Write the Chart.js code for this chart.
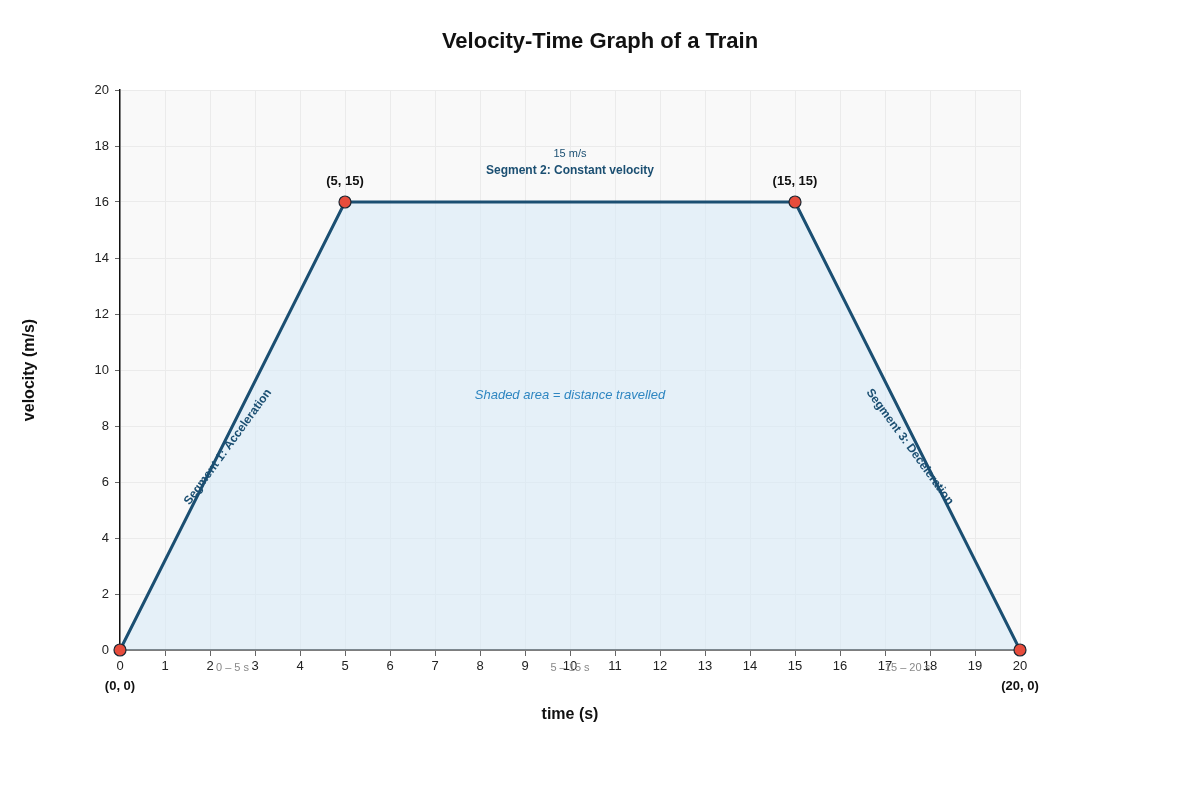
<!DOCTYPE html>
<html>
<head>
<meta charset="utf-8">
<script src="https://cdn.jsdelivr.net/npm/chart.js@4/dist/chart.umd.min.js"></script>
<style>
  html, body { margin: 0; padding: 0; background: #fff; }
  #wrap { width: 1200px; height: 800px; }
</style>
</head>
<body>
<div id="wrap"><canvas id="chart" width="1200" height="800"></canvas></div>
<script>
// data
const times = [0, 5, 15, 20]
const velocities = [0, 16, 16, 0]
const pointLabels = ['(0, 0)', '(5, 15)', '(15, 15)', '(20, 0)']
const segmentRanges = ['0 – 5 s', '5 – 15 s', '15 – 20 s']
const rangeCenters = [2.5, 10, 17.5]

const lineColor = '#1b4f72'
const font = 'Liberation Sans, Arial, sans-serif'

const bgPlugin = {
    id: 'plotBg',
    beforeDraw(chart) {
        const { ctx, chartArea: a } = chart
        ctx.save()
        ctx.fillStyle = '#f9f9f9'
        ctx.fillRect(a.left, a.top, a.right - a.left, a.bottom - a.top)
        ctx.restore()
    }
}

const textPlugin = {
    id: 'texts',
    afterDraw(chart) {
        const { ctx, chartArea: a } = chart
        const x = chart.scales.x, y = chart.scales.y
        ctx.save()
        ctx.textAlign = 'center'
        ctx.textBaseline = 'middle'

        // title + axis titles
        ctx.fillStyle = '#111'
        ctx.font = 'bold 22px ' + font
        ctx.fillText('Velocity-Time Graph of a Train', 600, 42)
        ctx.font = 'bold 16px ' + font
        ctx.fillText('time (s)', (a.left + a.right) / 2, 715)
        ctx.save()
        ctx.translate(30, (a.top + a.bottom) / 2)
        ctx.rotate(-Math.PI / 2)
        ctx.fillText('velocity (m/s)', 0, 0)
        ctx.restore()

        // point labels
        ctx.font = 'bold 13px ' + font
        ctx.fillStyle = '#111'
        times.forEach((t, i) => {
            const px = x.getPixelForValue(t), py = y.getPixelForValue(velocities[i])
            const dy = velocities[i] === 0 ? 36 : -21
            ctx.fillText(pointLabels[i], px, py + dy)
        })

        // segment labels
        ctx.fillStyle = lineColor
        ctx.font = '11px ' + font
        ctx.fillText('15 m/s', x.getPixelForValue(10), 154)
        ctx.font = 'bold 12px ' + font
        ctx.fillText('Segment 2: Constant velocity', x.getPixelForValue(10), 171)

        ctx.save()
        ctx.translate(x.getPixelForValue(2.4), y.getPixelForValue(7.25))
        ctx.rotate(-54 * Math.PI / 180)
        ctx.fillText('Segment 1: Acceleration', 0, 0)
        ctx.restore()

        ctx.save()
        ctx.translate(x.getPixelForValue(17.55), y.getPixelForValue(7.25))
        ctx.rotate(54 * Math.PI / 180)
        ctx.fillText('Segment 3: Deceleration', 0, 0)
        ctx.restore()

        ctx.fillStyle = '#2e86c1'
        ctx.font = 'italic 13px ' + font
        ctx.fillText('Shaded area = distance travelled', x.getPixelForValue(10), 395)

        // time ranges under axis
        ctx.fillStyle = '#888'
        ctx.font = '11px ' + font
        segmentRanges.forEach((s, i) => {
            ctx.fillText(s, x.getPixelForValue(rangeCenters[i]), 668)
        })
        ctx.restore()
    }
}

Chart.defaults.font.family = font
Chart.defaults.font.size = 13
Chart.defaults.color = '#222'

const chart = new Chart(document.getElementById('chart').getContext('2d'), {
    type: 'line',
    data: {
        datasets: [{
            data: times.map((t, i) => ({ x: t, y: velocities[i] })),
            borderColor: lineColor,
            borderWidth: 3,
            backgroundColor: 'rgba(214, 234, 248, 0.55)',
            fill: 'origin',
            tension: 0,
            pointRadius: 6,
            pointHoverRadius: 6,
            pointBackgroundColor: '#e74c3c',
            pointBorderColor: '#1c2833',
            pointBorderWidth: 1.2,
            clip: false
        }]
    },
    options: {
        responsive: false,
        animation: false,
        layout: { padding: { top: 90, right: 180, bottom: 90, left: 0 } },
        plugins: { legend: { display: false }, tooltip: { enabled: false } },
        scales: {
            x: {
                type: 'linear',
                min: 0, max: 20,
                afterFit(s) { s.height = 60 },
                ticks: { stepSize: 1, color: '#222', padding: 3 },
                grid: { color: '#ebebeb', tickLength: 6, tickColor: '#666' },
                border: { color: '#111', width: 1.5 }
            },
            y: {
                min: 0, max: 20,
                afterFit(s) { s.width = 120 },
                ticks: { stepSize: 2, color: '#222', padding: 6 },
                grid: { color: '#ebebeb', tickLength: 5, tickColor: '#666' },
                border: { color: '#111', width: 1.5 }
            }
        }
    },
    plugins: [bgPlugin, textPlugin]
})
</script>
</body>
</html>
